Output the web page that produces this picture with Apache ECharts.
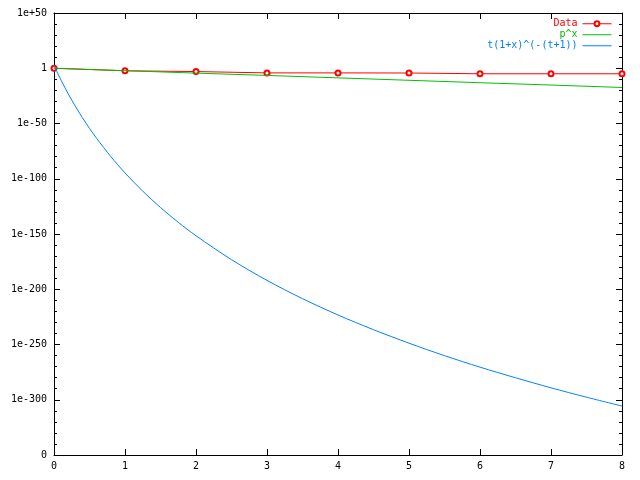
<!DOCTYPE html>
<html><head><meta charset="utf-8">
<script src="https://cdn.jsdelivr.net/npm/echarts@6/dist/echarts.min.js"></script>
<style>html,body{margin:0;padding:0;background:#fff}#c{width:640px;height:480px}</style>
</head><body><div id="c"></div>
<script>
// values are log10 of y
var dataX = [0,1,2,3,4,5,6,7,8];
var dataLog = [0,-2.3,-3,-4.2,-4.2,-4.3,-5,-5,-5];
var powX = [0,1,2,3,4,5,6,7,8];
var powLog = [0,-2.2,-4.4,-6.5,-8.7,-10.9,-13.1,-15.2,-17.4];
var tX = [0,0.1,0.2,0.3,0.4,0.5,0.6,0.8,1,1.25,1.5,1.75,2,2.5,3,3.5,4,4.5,5,5.5,6,6.5,7,7.5,8];
var tLog = [2.5,-10.9,-23.1,-34.3,-44.7,-54.4,-63.4,-79.9,-94.7,-111.2,-126.0,-139.4,-151.6,-173.2,-192.0,-208.5,-223.3,-236.6,-248.8,-260.1,-270.5,-280.1,-289.2,-297.7,-305.7];
var xTicks = [0,1,2,3,4,5,6,7,8];
var yTickExp = [50,0,-50,-100,-150,-200,-250,-300,-350];
var yTickLabels = ['1e+50','1','1e-50','1e-100','1e-150','1e-200','1e-250','1e-300','0'];

function zip(a,b){return a.map(function(v,i){return [v,b[i]];});}
var font = 'DejaVu Sans Mono';
var chart = echarts.init(document.getElementById('c'), null, {renderer:'canvas'});
var axLine = {show:true, onZero:false, lineStyle:{color:'#000', width:1}};
function yLab(v){var i = yTickExp.indexOf(v); return i>=0 ? yTickLabels[i] : '';}
function ts(c){return {color:c, fontFamily:font, fontSize:10};}
chart.setOption({
  animation:false,
  grid:{left:54, right:18, top:13, bottom:25},
  legend:{
    orient:'vertical', right:23, top:13, align:'right',
    itemWidth:29, itemHeight:6, itemGap:-0.5,
    lineStyle:{width:1},
    textStyle:{fontFamily:font, fontSize:10, lineHeight:11.5},
    data:[
      {name:'Data', textStyle:ts('#ff0000')},
      {name:'p^x', textStyle:ts('#00c000'), itemStyle:{opacity:0}},
      {name:'t(1+x)^(-(t+1))', textStyle:ts('#0080ff'), itemStyle:{opacity:0}}
    ]
  },
  xAxis:[
    {type:'value', min:0, max:8, interval:1, axisLine:axLine,
     axisTick:{inside:true, length:6, lineStyle:{color:'#000'}},
     minorTick:{show:false}, splitLine:{show:false},
     axisLabel:{fontFamily:font, fontSize:10, color:'#000', margin:6}},
    {type:'value', min:0, max:8, interval:1, position:'top', axisLine:axLine,
     axisTick:{inside:true, length:6, lineStyle:{color:'#000'}},
     splitLine:{show:false}, axisLabel:{show:false}}
  ],
  yAxis:[
    {type:'value', min:-350, max:50, interval:50, axisLine:axLine,
     axisTick:{inside:true, length:6, lineStyle:{color:'#000'}},
     minorTick:{show:true, splitNumber:5, length:3, lineStyle:{color:'#000'}},
     splitLine:{show:false},
     axisLabel:{fontFamily:font, fontSize:10, color:'#000', margin:7, formatter:yLab}},
    {type:'value', min:-350, max:50, interval:50, position:'right', axisLine:axLine,
     axisTick:{inside:true, length:6, lineStyle:{color:'#000'}},
     minorTick:{show:true, splitNumber:5, length:3, lineStyle:{color:'#000'}},
     splitLine:{show:false}, axisLabel:{show:false}}
  ],
  series:[
    {name:'Data', type:'line', data:zip(dataX,dataLog), color:'#ff0000',
     lineStyle:{width:1, color:'#ff0000'}, symbol:'emptyCircle', symbolSize:5,
     itemStyle:{color:'#ff0000', borderColor:'#ff0000', borderWidth:1}, z:2},
    {name:'p^x', type:'line', data:zip(powX,powLog), color:'#00c000',
     lineStyle:{width:1, color:'#00c000'}, showSymbol:false, symbol:'none', z:3},
    {name:'t(1+x)^(-(t+1))', type:'line', data:zip(tX,tLog), color:'#0080ff', smooth:0.3,
     lineStyle:{width:1, color:'#0080ff'}, showSymbol:false, symbol:'none', z:4}
  ]
});
</script></body></html>
